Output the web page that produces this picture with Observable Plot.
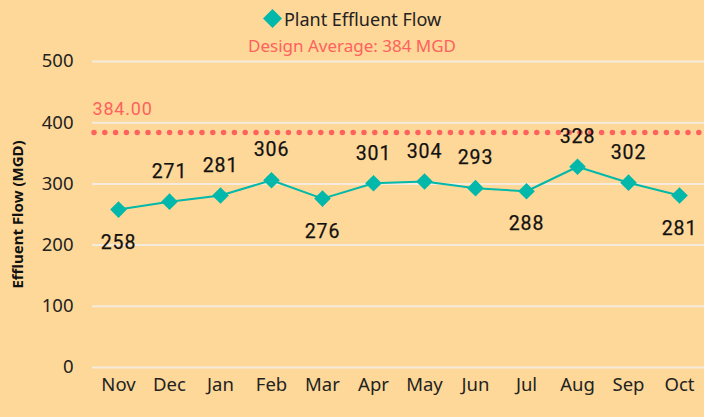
<!DOCTYPE html>
<html>
<head>
<meta charset="utf-8">
<script src="https://cdn.jsdelivr.net/npm/d3@7"></script>
<script src="https://cdn.jsdelivr.net/npm/@observablehq/plot@0.6"></script>
<style>
  html, body { margin: 0; padding: 0; background: #FED898; }
  #wrap { width: 704px; height: 417px; background: #FED898; position: relative; overflow: hidden; }
  #legend { position: relative; height: 40px; width: 704px; font-family: "Noto Sans", "Open Sans", sans-serif; }
  #legend .item { position: absolute; left: 0; width: 704px; text-align: center; white-space: nowrap; }
  svg { display: block; overflow: visible; }
</style>
</head>
<body>
<div id="wrap">
  <div id="legend"></div>
  <div id="chart"></div>
</div>
<script>
const months = ["Nov","Dec","Jan","Feb","Mar","Apr","May","Jun","Jul","Aug","Sep","Oct"];
const flow = [258, 271, 281, 306, 276, 301, 304, 293, 288, 328, 302, 281];
const labelBelow = [true, false, false, false, true, false, false, false, true, false, false, true];
const designAverage = 384;
const yTicks = [0, 100, 200, 300, 400, 500];
const seriesName = "Plant Effluent Flow";
const refName = "Design Average: 384 MGD";
const yTitle = "Effluent Flow (MGD)";
const lineColor = "#01B8AA";
const refColor = "#FD625E";

const data = months.map((m, i) => ({month: m, flow: flow[i], below: labelBelow[i]}));

// Legend
const legend = document.getElementById("legend");
legend.innerHTML = `
  <div class="item" style="top:7px;font-size:18px;line-height:24px;color:#222;">
    <svg width="19" height="19" style="display:inline-block;vertical-align:-2px;margin-right:2px;overflow:visible">
      <path d="M9.5,0 L19,9.5 L9.5,19 L0,9.5 Z" fill="${lineColor}"/>
    </svg>${seriesName}</div>
  <div class="item" style="top:34px;font-size:17px;line-height:24px;color:${refColor};">${refName}</div>`;

const labelFont = "Roboto, sans-serif";
const chart = Plot.plot({
  width: 704,
  height: 377,
  marginTop: 21,
  marginBottom: 50,
  marginLeft: 92,
  marginRight: 0,
  style: {background: "transparent", fontFamily: "'Noto Sans', 'Open Sans', sans-serif", color: "#222", overflow: "visible"},
  x: {type: "point", domain: months, padding: 0.4, label: null},
  y: {domain: [0, 500], ticks: yTicks, label: null},
  marks: [
    Plot.ruleY(yTicks, {stroke: "#f3ebde", strokeWidth: 2}),
    Plot.axisX({tickSize: 0, tickPadding: 10, fontSize: 18.5, label: null}),
    Plot.axisY({ticks: yTicks, tickSize: 0, tickPadding: 19, fontSize: 18.5, label: null}),
    Plot.ruleY([designAverage], {stroke: refColor, strokeWidth: 5.5, strokeDasharray: "0 10.8", strokeLinecap: "round", dx: 2}),
    Plot.text([designAverage], {y: d => d, text: d => d.toFixed(2), frameAnchor: "left", textAnchor: "start", dy: -23, fill: refColor, fontSize: 18, fontFamily: labelFont}),
    Plot.line(data, {x: "month", y: "flow", stroke: lineColor, strokeWidth: 2}),
    Plot.dot(data, {x: "month", y: "flow", symbol: "diamond2", r: 7.5, fill: lineColor, stroke: "none"}),
    Plot.text(data, {x: "month", y: "flow", text: d => String(d.flow), fontSize: 19.5, fill: "#111", stroke: "#111", strokeWidth: 0.25, fontFamily: labelFont, fontWeight: 400,
      filter: d => !d.below, dy: -30}),
    Plot.text(data, {x: "month", y: "flow", text: d => String(d.flow), fontSize: 19.5, fill: "#111", stroke: "#111", strokeWidth: 0.25, fontFamily: labelFont, fontWeight: 400,
      filter: d => d.below, dy: 33}),
    Plot.text([yTitle], {text: d => d, frameAnchor: "left", textAnchor: "middle", dx: -74, rotate: -90, fontSize: 15, fontWeight: "bold", fill: "#111"})
  ]
});
document.getElementById("chart").appendChild(chart);
chart.querySelectorAll("g[font-family]").forEach(g => {
  if (g.getAttribute("font-family") === labelFont) g.style.letterSpacing = "0.8px";
});
</script>
</body>
</html>
